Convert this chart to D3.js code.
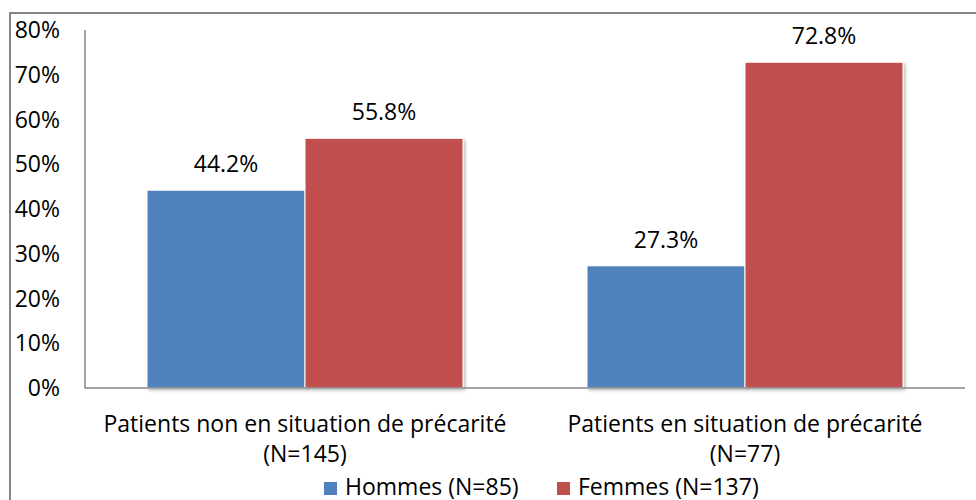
<!DOCTYPE html>
<html>
<head>
<meta charset="utf-8">
<script src="https://cdn.jsdelivr.net/npm/d3@7"></script>
<style>
  body { margin: 0; background: #fff; overflow: hidden; }
  text { font-family: "Open Sans", "Noto Sans", sans-serif; fill: #000; }
</style>
</head>
<body>
<script>
const categories = ["Patients non en situation de précarité|(N=145)", "Patients en situation de précarité|(N=77)"];
const seriesNames = ["Hommes (N=85)", "Femmes (N=137)"];
const hommes = [44.2, 27.3];
const femmes = [55.8, 72.8];
const yTicks = [0, 10, 20, 30, 40, 50, 60, 70, 80];

const WIDTH = 976;
const HEIGHT = 500;
const PLOT_LEFT = 85;
const PLOT_RIGHT = 965;
const PLOT_TOP = 30;
const PLOT_BOTTOM = 388;
const COLORS = ["#4f81bd", "#c0504d"];
const FONT_SIZE = 23;

const svg = d3.select("body").append("svg")
  .attr("width", WIDTH)
  .attr("height", HEIGHT)
  .style("display", "block");

const defs = svg.append("defs");
const shadow = defs.append("filter").attr("id", "shadow")
  .attr("x", "-5%").attr("y", "-5%").attr("width", "115%").attr("height", "115%");
shadow.append("feDropShadow")
  .attr("dx", 2).attr("dy", 2).attr("stdDeviation", 1.5)
  .attr("flood-color", "#000").attr("flood-opacity", 0.25);

// outer frame (only top and left visible)
svg.append("path")
  .attr("d", `M10,${HEIGHT} V13 H${WIDTH}`)
  .attr("fill", "none")
  .attr("stroke", "#868686")
  .attr("stroke-width", 2);

const x0 = d3.scaleBand().domain(categories).range([PLOT_LEFT, PLOT_RIGHT]);
const x1 = d3.scaleBand().domain(seriesNames).range([62, x0.bandwidth() - 62]);
const y = d3.scaleLinear().domain([0, 80]).range([PLOT_BOTTOM, PLOT_TOP]);

// y tick labels
svg.append("g").selectAll("text")
  .data(yTicks)
  .enter().append("text")
  .attr("x", 60)
  .attr("y", d => y(d))
  .attr("dy", "0.35em")
  .attr("text-anchor", "end")
  .style("font-size", FONT_SIZE + "px")
  .text(d => d + "%");

// bars
const rows = categories.map((c, i) => ({ cat: c, values: [hommes[i], femmes[i]] }));
const groups = svg.append("g").selectAll("g")
  .data(rows)
  .enter().append("g")
  .attr("transform", d => `translate(${x0(d.cat)},0)`);

groups.selectAll("rect")
  .data(d => d.values.map((v, j) => ({ name: seriesNames[j], value: v, j })))
  .enter().append("rect")
  .attr("x", d => x1(d.name))
  .attr("y", d => y(d.value))
  .attr("width", x1.bandwidth())
  .attr("height", d => PLOT_BOTTOM - y(d.value))
  .attr("fill", d => COLORS[d.j])
  .attr("stroke", "#fff")
  .attr("stroke-width", 1)
  .attr("filter", "url(#shadow)");

groups.selectAll("text.value")
  .data(d => d.values.map((v, j) => ({ name: seriesNames[j], value: v })))
  .enter().append("text")
  .attr("class", "value")
  .attr("x", d => x1(d.name) + x1.bandwidth() / 2)
  .attr("y", d => y(d.value) - 18)
  .attr("text-anchor", "middle")
  .style("font-size", FONT_SIZE + "px")
  .text(d => d.value.toFixed(1) + "%");

// axis lines
svg.append("path")
  .attr("d", `M${PLOT_LEFT},${PLOT_TOP} V${PLOT_BOTTOM} H${PLOT_RIGHT}`)
  .attr("fill", "none")
  .attr("stroke", "#868686")
  .attr("stroke-width", 1.5);

// category labels
const catLabels = svg.append("g").selectAll("text")
  .data(categories)
  .enter().append("text")
  .attr("x", d => x0(d) + x0.bandwidth() / 2)
  .attr("y", 432)
  .attr("text-anchor", "middle")
  .style("font-size", FONT_SIZE + "px");
catLabels.selectAll("tspan")
  .data(d => d.split("|"))
  .enter().append("tspan")
  .attr("x", function () { return d3.select(this.parentNode).attr("x"); })
  .attr("dy", (_, i) => i === 0 ? 0 : 30)
  .text(d => d);

// legend
const legendX = [324, 557];
const legend = svg.append("g").selectAll("g")
  .data(seriesNames)
  .enter().append("g")
  .attr("transform", (_, i) => `translate(${legendX[i]},482)`);
legend.append("rect")
  .attr("width", 13)
  .attr("height", 13)
  .attr("fill", (_, i) => COLORS[i]);
legend.append("text")
  .attr("x", 21)
  .attr("y", 13)
  .style("font-size", FONT_SIZE + "px")
  .text(d => d);
</script>
</body>
</html>
